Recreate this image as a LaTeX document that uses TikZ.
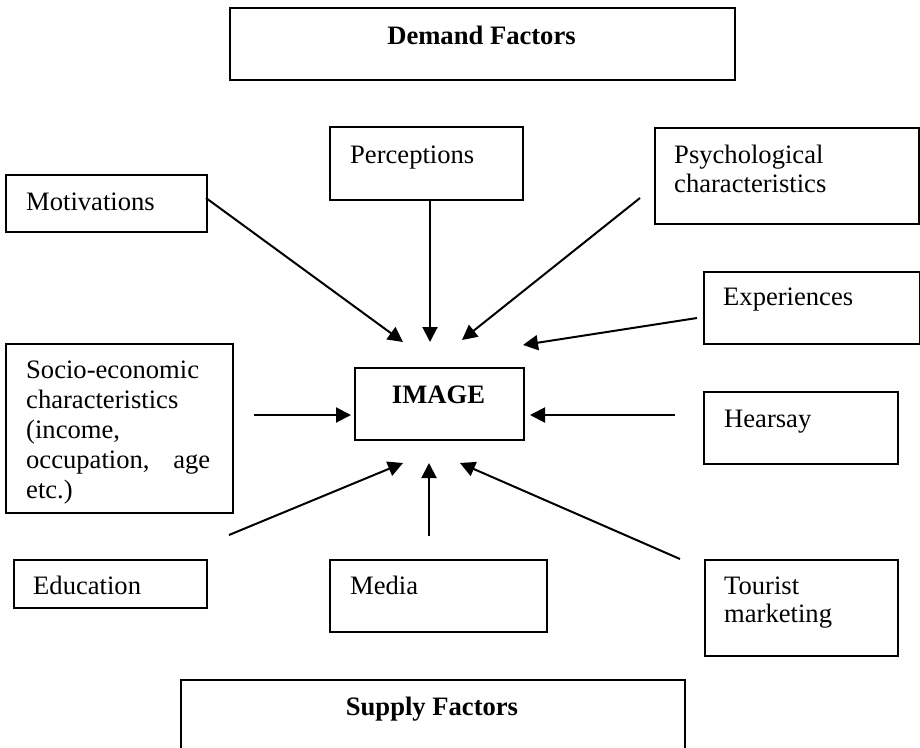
\documentclass[tikz,border=0pt]{standalone}
\usepackage{fontspec}
\setmainfont{Liberation Serif}
\usetikzlibrary{arrows.meta}
\begin{document}
\begin{tikzpicture}[x=1pt,y=-1pt,
  box/.style={draw, line width=1.6pt, rectangle, inner sep=0pt, anchor=north west},
  txt/.style={inner sep=0pt, anchor=base west, font=\fontsize{26.6}{29}\selectfont, align=left},
  btxt/.style={inner sep=0pt, anchor=base, font=\fontsize{26.6}{29}\selectfont\bfseries},
  arr/.style={-{Triangle[length=15pt,width=15pt]}, line width=2pt}]
\useasboundingbox (0,0) rectangle (920,747);
\clip (0,0) rectangle (920,747);
% boxes
\node[box, minimum width=505pt, minimum height=72pt] (dem) at (229,7) {};
\node[box, minimum width=201pt, minimum height=57pt] (mot) at (5,174) {};
\node[box, minimum width=193pt, minimum height=73pt] (per) at (329,126) {};
\node[box, minimum width=264pt, minimum height=96pt] (psy) at (654,127) {};
\node[box, minimum width=216pt, minimum height=72pt] (exp) at (703,271) {};
\node[box, minimum width=169pt, minimum height=72pt] (img) at (354,367) {};
\node[box, minimum width=227pt, minimum height=169pt] (soc) at (5,343) {};
\node[box, minimum width=194pt, minimum height=72pt] (hea) at (703,391) {};
\node[box, minimum width=193pt, minimum height=48pt] (edu) at (13,559) {};
\node[box, minimum width=217pt, minimum height=72pt] (med) at (329,559) {};
\node[box, minimum width=193pt, minimum height=96pt] (tou) at (704,559) {};
\node[box, minimum width=504pt, minimum height=120pt] (sup) at (180,679) {};
% texts (base west = baseline of the last line)
\node[btxt] (demT) at (481.5,44) {Demand Factors};
\node[txt] (motT) at (26,210) {Motivations};
\node[txt] (perT) at (350,163) {Perceptions};
\node[txt, font=\fontsize{26.6}{29}\selectfont] (psyT) at (674,192) {Psychological\\characteristics};
\node[txt] (expT) at (723,305) {Experiences};
\node[btxt] (imgT) at (438.5,403) {IMAGE};
\node[txt, font=\fontsize{26.6}{30}\selectfont] (socT) at (26,498) {Socio-economic\\characteristics\\(income,\\\makebox[184pt][s]{occupation,\hfill age}\\etc.)};
\node[txt] (heaT) at (724,427) {Hearsay};
\node[txt] (eduT) at (33,594) {Education};
\node[txt] (medT) at (350,594) {Media};
\node[txt, font=\fontsize{26.6}{28}\selectfont] (touT) at (724,622) {Tourist\\marketing};
\node[btxt] (supT) at (432,715) {Supply Factors};
% arrow end points
\coordinate (motA) at (206,198); \coordinate (motB) at (403,342);
\coordinate (perA) at (430,199); \coordinate (perB) at (430,342);
\coordinate (psyA) at (640,198); \coordinate (psyB) at (462,340);
\coordinate (expA) at (697,318); \coordinate (expB) at (523,345);
\coordinate (socA) at (254,415); \coordinate (socB) at (351,415);
\coordinate (heaA) at (675,415); \coordinate (heaB) at (530,415);
\coordinate (eduA) at (229,535); \coordinate (eduB) at (403,463);
\coordinate (medA) at (429,536); \coordinate (medB) at (429,463);
\coordinate (touA) at (680,559); \coordinate (touB) at (460,463);
\draw[arr] (motA) -- (motB);
\draw[arr] (perA) -- (perB);
\draw[arr] (psyA) -- (psyB);
\draw[arr] (expA) -- (expB);
\draw[arr] (socA) -- (socB);
\draw[arr] (heaA) -- (heaB);
\draw[arr] (eduA) -- (eduB);
\draw[arr] (medA) -- (medB);
\draw[arr] (touA) -- (touB);
\end{tikzpicture}
\end{document}
